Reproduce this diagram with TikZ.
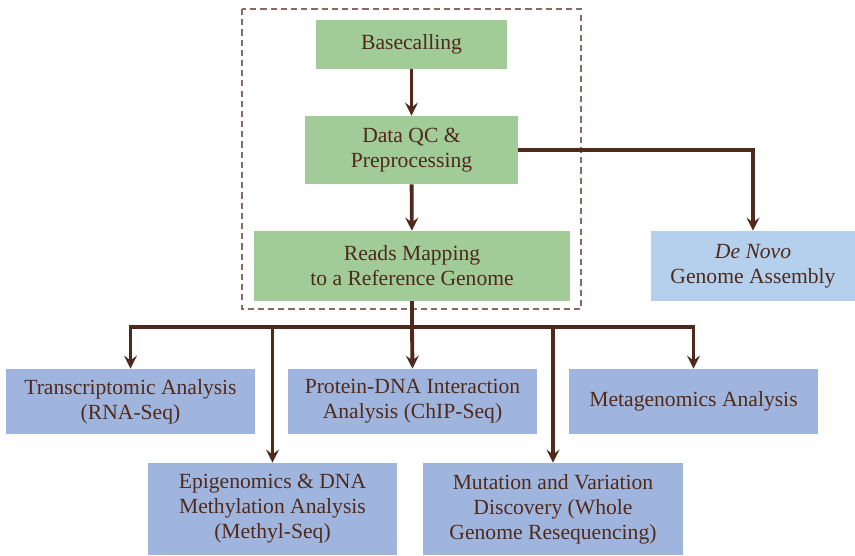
\documentclass[tikz,border=0pt]{standalone}
\usepackage{fontspec}
\setmainfont{Liberation Serif}
\usepackage{xcolor}
\usepackage{tikz}
\usetikzlibrary{positioning}

\definecolor{stepgreen}{HTML}{A1CB97}
\definecolor{appblue}{HTML}{A0B5DD}
\definecolor{asmblue}{HTML}{B4D0EC}
\definecolor{darkbrown}{HTML}{4F2A1C}
\definecolor{dashbrown}{HTML}{8A6A60}

\begin{document}
\begin{tikzpicture}[x=0.02cm, y=-0.02cm,
		box/.style={rectangle, inner sep=0pt, align=center, text=darkbrown,
			font=\fontsize{12.3}{14.2}\selectfont},
		pipe/.style={box, fill=stepgreen},
		app/.style={box, fill=appblue},
		link/.style={-stealth, line width=2.2pt, draw=darkbrown}]
		\useasboundingbox (0,0) rectangle (855,555);

		\draw[dashbrown, line width=0.8pt, dash pattern=on 3.5pt off 2.3pt] (242,9) rectangle (581,309);

		\node[pipe, minimum width=3.82cm, minimum height=0.98cm] (base) at (411.5,44.5) {Basecalling};
		\node[pipe, minimum width=4.26cm, minimum height=1.36cm] (qc) at (411.5,150) {Data QC \&\\Preprocessing};
		\node[pipe, minimum width=6.32cm, minimum height=1.4cm] (map) at (412,266) {Reads Mapping\\to a Reference Genome};
		\node[box, fill=asmblue, minimum width=4.1cm, minimum height=1.4cm] (denovo) at (753,266) {\textit{De Novo}\\Genome Assembly};

		\node[app, minimum width=4.98cm, minimum height=1.3cm] (trans) at (130.5,401.5) {Transcriptomic Analysis\\(RNA-Seq)};
		\node[app, minimum width=4.98cm, minimum height=1.3cm] (chip) at (412.5,401.5) {Protein-DNA Interaction\\Analysis (ChIP-Seq)};
		\node[app, minimum width=4.98cm, minimum height=1.3cm] (meta) at (693.5,401.5) {Metagenomics Analysis};
		\node[app, minimum width=4.98cm, minimum height=1.84cm] (epi) at (272.5,509) {Epigenomics \& DNA\\Methylation Analysis\\(Methyl-Seq)};
		\node[app, minimum width=5.2cm, minimum height=1.84cm] (mut) at (553,509) {Mutation and Variation\\Discovery (Whole\\Genome Resequencing)};

		\coordinate (bus) at (412,327);

		\draw[link] (base) -- (qc);
		\draw[link] (qc) -- (map);
		\draw[link] (qc.east) -| (denovo.north);

		\draw[line width=2.2pt, draw=darkbrown] (map.south) -- (bus);
		\draw[link] (bus) -| (trans.north);
		\draw[link] (bus) -| (epi.north);
		\draw[link] (bus) -- (chip.north);
		\draw[link] (bus) -| (mut.north);
		\draw[link] (bus) -| (meta.north);
	\end{tikzpicture}
\end{document}
